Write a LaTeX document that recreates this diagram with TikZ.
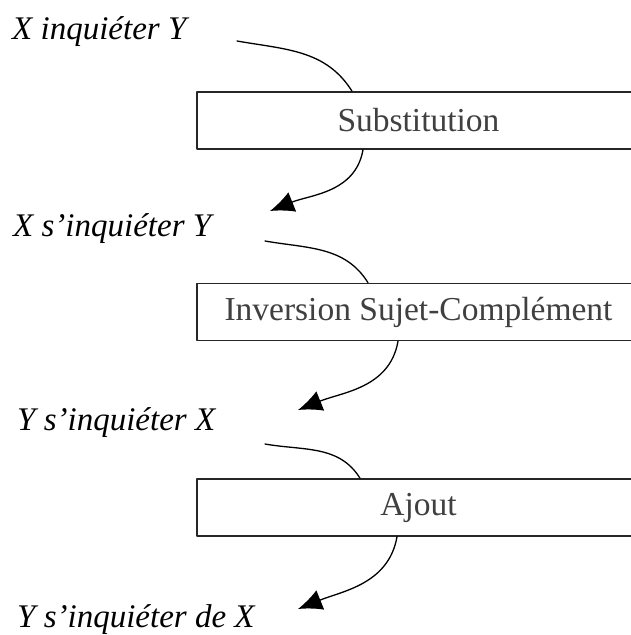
\documentclass[tikz,border=0pt]{standalone}
\usepackage{fontspec}
\setmainfont{Liberation Serif}
\usetikzlibrary{arrows.meta}
\tikzset{
  forme/.style={anchor=base west, inner sep=0pt, font=\fontsize{33}{40}\selectfont\itshape},
  etape/.style={draw=black!85, line width=1.6pt, minimum width=443pt, minimum height=57pt,
    inner sep=0pt, text=black!75, font=\fontsize{33.5}{40}\selectfont},
  trait/.style={line width=1.3pt},
  fleche/.style={line width=1.3pt, -{Latex[length=24pt,width=21pt]}}
}
\begin{document}
\begin{tikzpicture}[x=1pt, y=1pt, line join=round, line cap=round]
\useasboundingbox (0,0) rectangle (630,635);
% formes
\node[forme] (f1) at (12,595) {X inquiéter Y};
\node[forme] (f2) at (13,398) {X s’inquiéter Y};
\node[forme] (f3) at (17,204) {Y s’inquiéter X};
\node[forme] (f4) at (17,7) {Y s’inquiéter de X};
% etapes
\node[etape] (e1) at (418.5,514.5) {Substitution};
\node[etape] (e2) at (418.5,323) {Inversion Sujet-Complément};
\node[etape] (e3) at (418.5,127.5) {Ajout};
% bouts libres des fleches
\coordinate (d1) at (237,594);
\coordinate (a1) at (270,424);
\coordinate (d2) at (265,394);
\coordinate (a2) at (298,225);
\coordinate (d3) at (265,191);
\coordinate (a3) at (298,26);
\draw[trait] (d1) to[out=-10,in=122] ([xshift=-66.5pt]e1.north);
\draw[fleche] ([xshift=-55.5pt]e1.south) to[out=-100,in=22] (a1);
\draw[trait] (d2) to[out=-10,in=122] ([xshift=-50.5pt]e2.north);
\draw[fleche] ([xshift=-20.5pt]e2.south) to[out=-100,in=22] (a2);
\draw[trait] (d3) to[out=-10,in=122] ([xshift=-58.5pt]e3.north);
\draw[fleche] ([xshift=-21.5pt]e3.south) to[out=-100,in=22] (a3);
\end{tikzpicture}
\end{document}
